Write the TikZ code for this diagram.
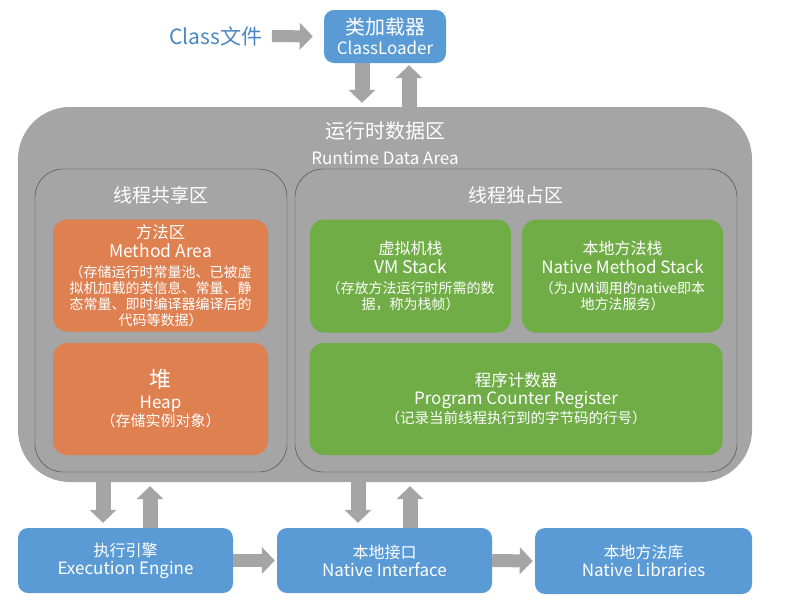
\documentclass[tikz,border=0pt]{standalone}
\usepackage{fontspec}
\setmainfont{Noto Sans CJK SC}
\usetikzlibrary{arrows.meta}
\definecolor{boxblue}{HTML}{5B9BD5}
\definecolor{boxorange}{HTML}{DF8050}
\definecolor{boxgreen}{HTML}{70AD47}
\definecolor{areagray}{HTML}{A5A5A5}
\definecolor{classblue}{HTML}{4A86C4}
\newcommand{\fsz}[2]{\fontsize{#1}{#2}\selectfont}

\begin{document}
\begin{tikzpicture}[x=1pt, y=-1pt,
    blk/.style={rectangle, rounded corners=14pt, inner sep=0pt, align=center, text=white},
    bluebox/.style={blk, fill=boxblue, rounded corners=10pt},
    orbox/.style={blk, fill=boxorange, minimum width=215pt, minimum height=112pt},
    grbox/.style={blk, fill=boxgreen, minimum height=113pt},
    zone/.style={rectangle, draw=black!75, thin, rounded corners=28pt, minimum height=303pt},
    bigarr/.style={draw=areagray, line width=15pt, -{Triangle[width=27pt,length=13pt,line width=0pt]}}
    ]
    \useasboundingbox (0,0) rectangle (803,611);
    \node[text=classblue, font=\fsz{21}{24}] (cls) at (216,36) {Class文件};
    \node[bluebox, minimum width=122pt, minimum height=53pt, font=\fsz{17}{20}] (loader) at (385,36.5)
        {{\fsz{20}{22}类加载器}\\ClassLoader};
    \node[rectangle, fill=areagray, rounded corners=52pt, minimum width=734pt, minimum height=375pt] (rda) at (385,294.5) {};
    \node[text=white, align=center, font=\fsz{17}{20}] (rdatitle) at (385,143)
        {{\fsz{20}{22}运行时数据区}\\[6pt]Runtime Data Area};
    \node[zone, minimum width=252pt] (shared) at (161,320.5) {};
    \node[zone, minimum width=442pt] (private) at (516,320.5) {};
    \node[text=white, font=\fsz{19}{22}] (sharedtitle) at (161,195) {线程共享区};
    \node[text=white, font=\fsz{19}{22}] (privatetitle) at (516,195) {线程独占区};
    \node[orbox, font=\fsz{14}{16}] (method) at (160.5,275.5)
        {{\fsz{16.5}{18}方法区}\\[3pt]{\fsz{17.5}{19}Method Area}\\[4pt]（存储运行时常量池、已被虚\\拟机加载的类信息、常量、静\\态常量、即时编译器编译后的\\代码等数据）};
    \node[orbox, font=\fsz{15}{18}] (heap) at (160.5,399)
        {{\fsz{22}{24}堆}\\[3pt]{\fsz{17}{19}Heap}\\（存储实例对象）};
    \node[grbox, minimum width=201pt, font=\fsz{14}{16}] (vmstack) at (410.5,276)
        {{\fsz{16}{19}虚拟机栈}\\[3pt]{\fsz{17.5}{20}VM Stack}\\[4pt]（存放方法运行时所需的数\\据，称为栈帧）};
    \node[grbox, minimum width=201pt, font=\fsz{14}{16}] (nmstack) at (622.5,276)
        {{\fsz{16}{19}本地方法栈}\\[3pt]{\fsz{17}{20}Native Method Stack}\\[4pt]（为JVM调用的native即本\\地方法服务）};
    \node[grbox, minimum width=413pt, minimum height=112pt, font=\fsz{14.5}{18}] (pc) at (516,399)
        {{\fsz{16.5}{19}程序计数器}\\{\fsz{17}{19}Program Counter Register}\\[1pt]（记录当前线程执行到的字节码的行号）};
    \node[bluebox, minimum width=215pt, minimum height=65pt, font=\fsz{17}{18}] (exec) at (125.5,560.5)
        {{\fsz{16}{19}执行引擎}\\Execution Engine};
    \node[bluebox, minimum width=215pt, minimum height=65pt, font=\fsz{17}{18}] (native) at (384.5,560.5)
        {{\fsz{16}{19}本地接口}\\Native Interface};
    \node[bluebox, minimum width=217pt, minimum height=66pt, font=\fsz{17}{18}] (libs) at (643.5,561)
        {{\fsz{16}{19}本地方法库}\\Native Libraries};
    \foreach \nm/\x in {ldn/362, lup/409, edn/103, eup/150, ndn/358, nup/410}
        \coordinate (\nm) at (\x,0);
    \draw[bigarr, line width=12pt, shorten <=6pt, shorten >=11pt] (cls.east) -- (loader.west);
    \draw[bigarr, shorten >=4pt] (loader.south -| ldn) -- (rda.north -| ldn);
    \draw[bigarr, shorten >=2pt] (rda.north -| lup) -- (loader.south -| lup);
    \draw[bigarr, shorten >=5pt] (rda.south -| edn) -- (exec.north -| edn);
    \draw[bigarr, shorten >=4pt] (exec.north -| eup) -- (rda.south -| eup);
    \draw[bigarr, shorten >=5pt] (rda.south -| ndn) -- (native.north -| ndn);
    \draw[bigarr, shorten >=4pt] (native.north -| nup) -- (rda.south -| nup);
    \draw[bigarr, line width=13pt, shorten >=2pt] (exec.east) -- (native.west);
    \draw[bigarr, line width=13pt, shorten >=2pt] (native.east) -- (libs.west);
\end{tikzpicture}
\end{document}
